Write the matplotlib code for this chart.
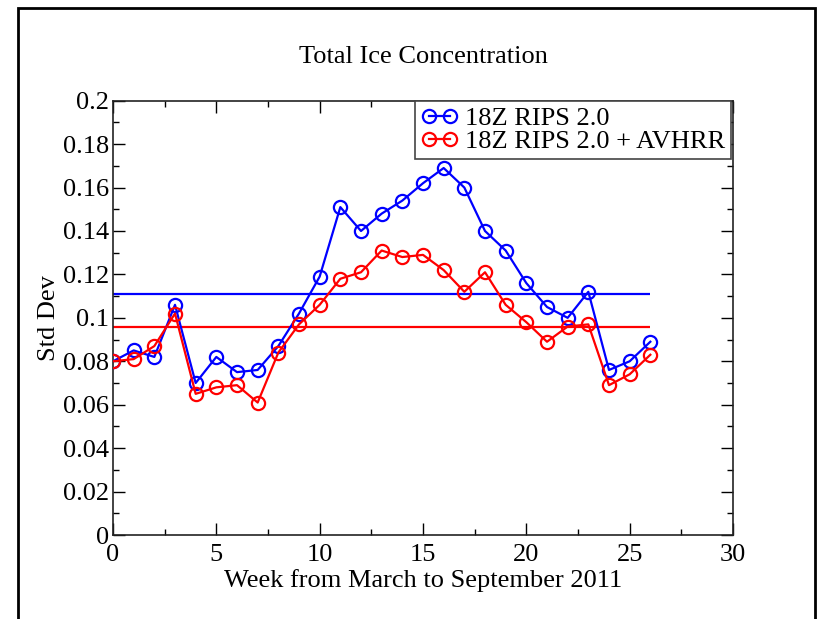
import matplotlib
matplotlib.use("Agg")
import matplotlib.pyplot as plt
from matplotlib.ticker import MultipleLocator, FuncFormatter
from matplotlib.patches import Rectangle

weeks = list(range(27))
rips = [0.080, 0.085, 0.082, 0.106, 0.070, 0.082, 0.075, 0.076, 0.087, 0.102,
        0.119, 0.151, 0.140, 0.148, 0.154, 0.162, 0.169, 0.160, 0.140, 0.131,
        0.116, 0.105, 0.100, 0.112, 0.076, 0.080, 0.089]
rips_avhrr = [0.080, 0.081, 0.087, 0.102, 0.065, 0.068, 0.069, 0.061, 0.084, 0.097,
              0.106, 0.118, 0.121, 0.131, 0.128, 0.129, 0.122, 0.112, 0.121, 0.106,
              0.098, 0.089, 0.096, 0.097, 0.069, 0.074, 0.083]
mean_rips = 0.111
mean_avhrr = 0.096
series_labels = ["18Z RIPS 2.0", "18Z RIPS 2.0 + AVHRR"]

plt.rcParams['font.family'] = ['Liberation Serif', 'DejaVu Serif']
fs = 19

fig = plt.figure(figsize=(8.25, 6.19), dpi=100)
ax = fig.add_axes([113/825, 1-535/619, (733-113)/825, (535-100.7)/619])

ax.plot(weeks, rips, color='#0000ff', lw=1.6, marker='o', ms=9.5,
        mfc='none', mec='#0000ff', mew=1.6, label=series_labels[0], zorder=3)
ax.plot(weeks, rips_avhrr, color='#ff0000', lw=1.6, marker='o', ms=9.5,
        mfc='none', mec='#ff0000', mew=1.6, label=series_labels[1], zorder=3)
ax.hlines(mean_rips, weeks[0], weeks[-1], color='#0000ff', lw=1.6, zorder=2)
ax.hlines(mean_avhrr, weeks[0], weeks[-1], color='#ff0000', lw=1.6, zorder=2)

ax.set_xlim(0, 30)
ax.set_ylim(0, 0.2)
ax.xaxis.set_major_locator(MultipleLocator(5))
ax.xaxis.set_minor_locator(MultipleLocator(2.5))
ax.yaxis.set_major_locator(MultipleLocator(0.02))
ax.yaxis.set_minor_locator(MultipleLocator(0.01))
ax.yaxis.set_major_formatter(FuncFormatter(lambda v, p: '%g' % round(v, 4)))
ax.xaxis.set_major_formatter(FuncFormatter(lambda v, p: '%g' % v))
ax.tick_params(which='both', direction='in', top=True, right=True, width=1.0,
               color='black', labelsize=fs)
ax.tick_params(which='major', length=8.6)
ax.tick_params(which='minor', length=4.3)
ax.tick_params(axis='x', pad=6.5)
ax.tick_params(axis='y', pad=3)
for s in ax.spines.values():
    s.set_linewidth(1.2)
    s.set_color('#222222')

ax.set_title("Total Ice Concentration", fontsize=fs, pad=27)
ax.set_xlabel("Week from March to September 2011", fontsize=fs, labelpad=2)
ax.set_ylabel("Std Dev", fontsize=fs, labelpad=2)

leg = ax.legend(loc='upper right', bbox_to_anchor=(0.997, 1.0), borderaxespad=0,
                fontsize=fs, numpoints=2, handlelength=1.4, handletextpad=0.27,
                borderpad=0.22, labelspacing=0.0, fancybox=False, framealpha=1)
leg.get_frame().set_edgecolor('#444444')
leg.get_frame().set_linewidth(1.2)

fig.patches.append(Rectangle((18/825, -0.1), (815-18)/825, 1.1 - 8/619,
                             transform=fig.transFigure, fill=False,
                             edgecolor='black', lw=2.0))

fig.savefig("out.png", dpi=100)
